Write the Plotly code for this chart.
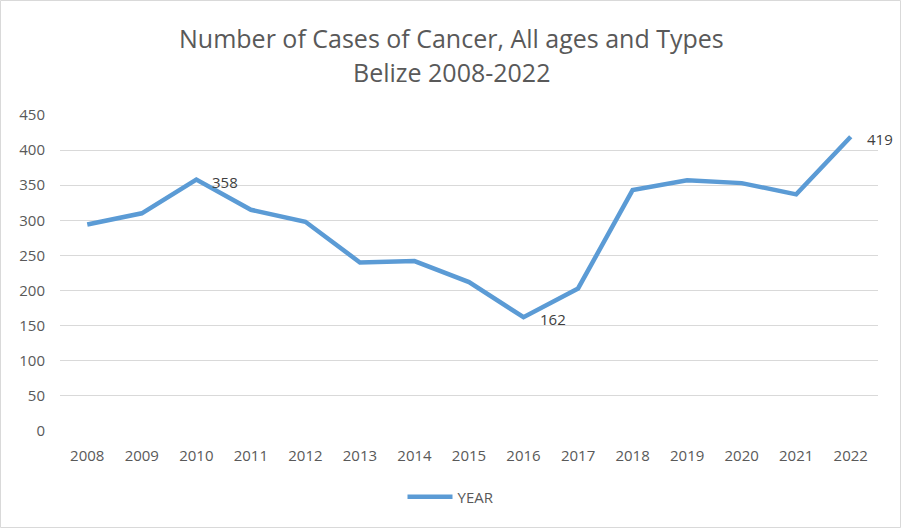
import plotly.graph_objects as go

years = [str(y) for y in range(2008, 2023)]
cases = [294, 310, 358, 315, 298, 240, 242, 212, 162, 203, 343, 357, 353, 337, 419]
labeled_years = ["2010", "2016", "2022"]
y_ticks = [0, 50, 100, 150, 200, 250, 300, 350, 400, 450]
series_name = "YEAR"
title_lines = ["Number of Cases of Cancer, All ages and Types", "Belize 2008-2022"]

W, H = 902, 529
ML, MR, MT, MB = 60, 24, 115, 98
FONT = "Open Sans"
TXT = "#595959"
pw = W - ML - MR
ph = H - MT - MB
CENTER_X = (451 - ML) / pw

fig = go.Figure()
fig.add_trace(go.Scatter(
    x=years, y=cases, mode="lines", name=series_name,
    line=dict(color="#5B9BD5", width=4.5),
    showlegend=True,
))

for yr in labeled_years:
    i = years.index(yr)
    fig.add_annotation(
        x=i, y=cases[i], text=str(cases[i]), showarrow=False,
        xref="x", yref="y",
        xanchor="left", yanchor="middle", xshift=14, yshift=-2,
        font=dict(family=FONT, size=15, color="#404040"),
    )

title_y = [38, 72]
for line, ypix in zip(title_lines, title_y):
    fig.add_annotation(
        x=CENTER_X, xref="paper", y=1 + (MT - ypix) / ph, yref="paper",
        text=line, showarrow=False, xanchor="center", yanchor="middle",
        font=dict(family=FONT, size=25, color=TXT),
    )

fig.add_shape(
    type="rect", xref="paper", yref="paper",
    x0=(0.5 - ML) / pw, x1=(W - 1.5 - ML) / pw,
    y0=-(MB - 1.5) / ph, y1=1 + (MT - 0.5) / ph,
    line=dict(color="#D9D9D9", width=1), layer="below",
)

fig.update_layout(
    width=W, height=H,
    margin=dict(l=ML, r=MR, t=MT, b=MB),
    paper_bgcolor="white", plot_bgcolor="white",
    font=dict(family=FONT, color=TXT, size=15),
    showlegend=True,
    legend=dict(
        orientation="h", x=CENTER_X, xanchor="center", xref="paper",
        y=-(497 - (MT + ph)) / ph, yanchor="middle",
        itemwidth=45,
        font=dict(family=FONT, size=15, color=TXT),
    ),
    xaxis=dict(
        type="category", range=[-0.5, len(years) - 0.5],
        showgrid=False, zeroline=False, showline=False,
        ticks="", ticklabelstandoff=14,
        tickfont=dict(family=FONT, size=15, color=TXT),
    ),
    yaxis=dict(
        range=[0, 450], tickvals=y_ticks,
        showgrid=True, gridcolor="#D9D9D9", gridwidth=1.3,
        zeroline=False, showline=False, ticks="",
        ticklabelstandoff=14,
        tickfont=dict(family=FONT, size=15, color=TXT),
    ),
)

fig.write_html("out.html")
